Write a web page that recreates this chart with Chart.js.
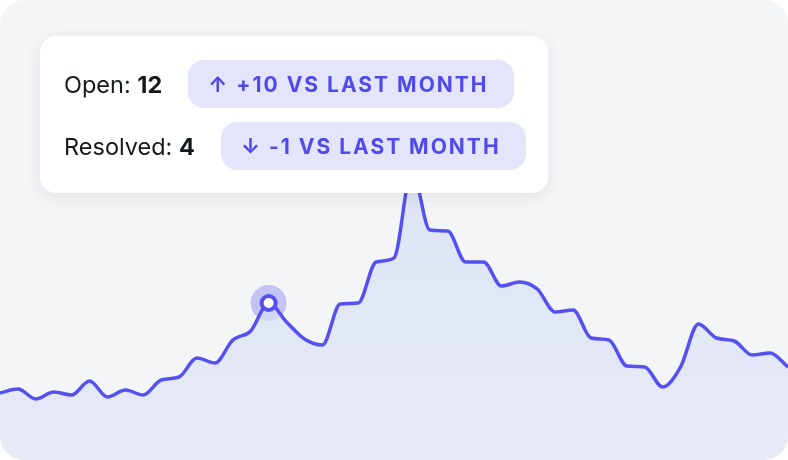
<!DOCTYPE html>
<html>
<head>
<meta charset="utf-8">
<script src="https://cdn.jsdelivr.net/npm/chart.js@4.4.1/dist/chart.umd.min.js"></script>
<style>
  html, body { margin: 0; padding: 0; background: #fff; }
  body { width: 788px; height: 460px; overflow: hidden; font-family: Inter, "Noto Sans", sans-serif; }
  .frame { position: relative; width: 788px; height: 460px; border-radius: 24px; overflow: hidden; background: #f4f5f7; }
  .frame canvas { position: absolute; left: 0; top: 0; }
  .card {
    position: absolute; left: 40px; top: 36px; width: 508px; height: 157px; box-sizing: border-box;
    background: #fff; border-radius: 16px; padding: 24px 0 0 24px;
    box-shadow: 0 4px 18px rgba(20, 24, 40, 0.08);
  }
  .row { display: flex; align-items: center; height: 48px; }
  .row + .row { margin-top: 14px; }
  .label { font-size: 23.5px; color: #15181e; }
  .label b { font-weight: 700; }
  .badge {
    margin-left: 26px; height: 48px; box-sizing: border-box; padding: 0 25px 0 20px;
    display: flex; align-items: center; border-radius: 16px;
    background: #e4e4fb; color: #4f4ae9; font-weight: 700; font-size: 21px; letter-spacing: 2px;
  }
</style>
</head>
<body>
<div class="frame">
  <canvas id="issuesChart" width="788" height="460"></canvas>
  <div class="card">
    <div class="row"><span class="label">Open: <b id="openCount"></b></span><span class="badge" id="openBadge"></span></div>
    <div class="row"><span class="label">Resolved: <b id="resolvedCount"></b></span><span class="badge" id="resolvedBadge"></span></div>
  </div>
</div>
<script>
// Datos del gráfico
const dayLabels = ['1', '2', '3', '4', '5', '6', '7', '8', '9', '10', '11', '12', '13', '14', '15',
  '16', '17', '18', '19', '20', '21', '22', '23', '24', '25', '26', '27', '28', '29', '30',
  '31', '32', '33', '34', '35', '36', '37', '38', '39', '40', '41', '42', '43', '44', '45'];
const openIssues = [6.7, 7.1, 6.1, 6.8, 6.5, 7.9, 6.3, 7.0, 6.5, 8.0, 8.3, 10.2, 9.7, 12.0, 12.9,
  15.7, 13.8, 12.1, 11.5, 15.6, 15.7, 19.8, 20.2, 29.0, 23.0, 22.9, 19.8, 19.8, 17.4, 17.8,
  17.1, 14.8, 15.0, 12.2, 12.0, 9.4, 9.3, 7.3, 9.3, 13.6, 12.2, 11.9, 10.5, 10.7, 9.3];
const highlightIndex = 15;
const yMin = 0;
const yMax = 46;

const openNow = 12;
const openDelta = 10;
const resolvedNow = 4;
const resolvedDelta = -1;

document.addEventListener('DOMContentLoaded', function() {
  document.getElementById('openCount').textContent = openNow;
  document.getElementById('resolvedCount').textContent = resolvedNow;
  document.getElementById('openBadge').textContent = badgeText(openDelta);
  document.getElementById('resolvedBadge').textContent = badgeText(resolvedDelta);

  const ctx = document.getElementById('issuesChart').getContext('2d');
  initIssuesChart(ctx);
});

function badgeText(delta) {
  const arrow = delta >= 0 ? '↑' : '↓';
  const sign = delta >= 0 ? '+' + delta : String(delta);
  return arrow + ' ' + sign + ' VS LAST MONTH';
}

function initIssuesChart(ctx) {
  const halo = openIssues.map((v, i) => i === highlightIndex ? v : null);

  new Chart(ctx, {
    type: 'line',
    data: {
      labels: dayLabels,
      datasets: [
        {
          label: 'Open',
          data: openIssues,
          borderColor: '#5451f0',
          borderWidth: 3.5,
          cubicInterpolationMode: 'monotone',
          fill: 'start',
          backgroundColor: function(context) {
            const area = context.chart.chartArea;
            if (!area) return 'rgba(210, 216, 242, 0.5)';
            const g = context.chart.ctx.createLinearGradient(0, area.top, 0, area.bottom);
            g.addColorStop(0, 'rgba(205, 214, 242, 0.75)');
            g.addColorStop(1, 'rgba(222, 227, 245, 0.6)');
            return g;
          },
          pointRadius: openIssues.map((v, i) => i === highlightIndex ? 7 : 0),
          pointBorderWidth: 4,
          pointBorderColor: '#5451f0',
          pointBackgroundColor: '#ffffff',
          order: 1
        },
        {
          label: 'Highlight',
          data: halo,
          showLine: false,
          pointRadius: 18,
          pointBorderWidth: 0,
          pointBackgroundColor: 'rgba(84, 81, 240, 0.3)',
          order: 2
        }
      ]
    },
    options: {
      responsive: false,
      animation: false,
      layout: { padding: 0, autoPadding: false },
      plugins: {
        legend: { display: false },
        tooltip: { enabled: false }
      },
      scales: {
        x: { display: false },
        y: { display: false, min: yMin, max: yMax }
      }
    }
  });
}
</script>
</body>
</html>
